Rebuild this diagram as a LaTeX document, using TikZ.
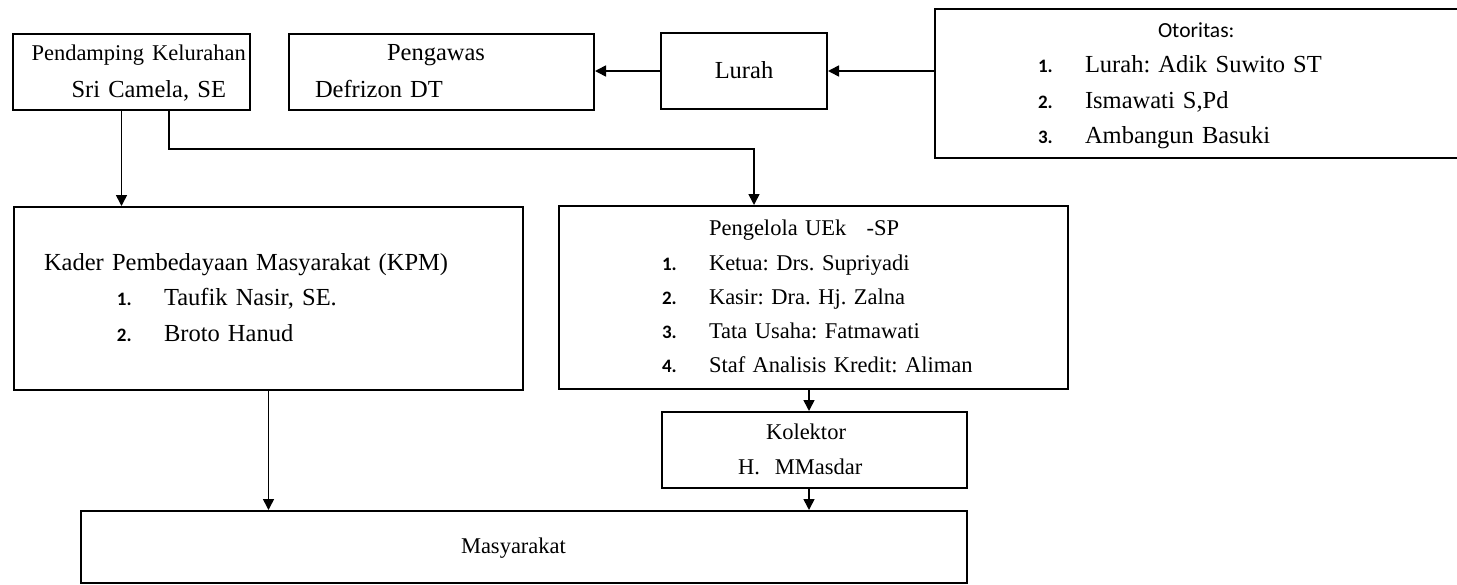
\documentclass[tikz,border=0pt]{standalone}
\usepackage{fontspec}
\setmainfont{Liberation Serif}
\newfontfamily\numfont{Carlito}
\usepackage{tikz}
\usetikzlibrary{
    positioning,
    arrows.meta,
    calc
}
\frenchspacing
\tikzset{
    box/.style={
        rectangle, draw, line width=2pt, inner sep=0pt,
        anchor=north west, align=left,
        font=\fontsize{24.5}{35.5}\selectfont
    },
    smalltxt/.style={
        font=\fontsize{22.5}{34.3}\selectfont
    },
    arrow/.style={
        -{Triangle[length=11pt, width=11pt]}, line width=1.6pt
    }
}
\newcommand{\itm}[2]{\makebox[47pt][l]{\numfont\bfseries\fontsize{19}{19}\selectfont #1}\mbox{#2}}

\begin{document}
\begin{tikzpicture}[x=1pt, y=-1pt]
	\useasboundingbox (0,0) rectangle (1457,584);
	
	% NODES
	\node (pend) [box, minimum width=237pt, minimum height=76pt, text width=200pt, font=\fontsize{24.5}{37}\selectfont] at (12,33)
		{\strut\mbox{\fontsize{22.5}{37}\selectfont Pendamping Kelurahan}\\ \hspace*{40pt}Sri Camela, SE\strut};
	\node (peng) [box, minimum width=305pt, minimum height=76pt, text width=253pt, font=\fontsize{24.5}{37}\selectfont] at (288,33)
		{\strut\hspace*{72pt}Pengawas\\ Defrizon DT\strut};
	\node (lurah) [box, minimum width=166pt, minimum height=76pt, align=center] at (660,32) {\strut Lurah};
	\node (otor) [box, minimum width=536pt, minimum height=149pt, text width=330pt, font=\fontsize{24.5}{35.3}\selectfont] at (934,8)
		{\strut\hspace*{120pt}{\numfont\fontsize{21.5}{35.3}\selectfont Otoritas:}\\
		\itm{1.}{Lurah: Adik Suwito ST}\\
		\itm{2.}{Ismawati S,Pd}\\
		\itm{3.}{Ambangun Basuki}\strut};
	\node (kpm) [box, minimum width=509pt, minimum height=183pt, text width=449pt] at (13,206)
		{\strut Kader Pembedayaan Masyarakat (KPM)\\
		\hspace*{73pt}\itm{1.}{Taufik Nasir, SE.}\\
		\hspace*{73pt}\itm{2.}{Broto Hanud}\strut};
	\node (pengl) [box, smalltxt, minimum width=509pt, minimum height=183pt, text width=303pt] at (558,205)
		{\strut\hspace*{47pt}Pengelola UEk\hspace{0.9em}-SP\\
		\itm{1.}{Ketua: Drs. Supriyadi}\\
		\itm{2.}{Kasir: Dra. Hj. Zalna}\\
		\itm{3.}{Tata Usaha: Fatmawati}\\
		\itm{4.}{Staf Analisis Kredit: Aliman}\strut};
	\node (kol) [box, smalltxt, minimum width=305pt, minimum height=76pt, text width=153pt] at (661,411)
		{\strut\hspace*{28pt}Kolektor\\ H.\ \ MMasdar\strut};
	\node (masy) [box, smalltxt, minimum width=886pt, minimum height=72pt, text width=126pt] at (80,510) {\strut Masyarakat};
	\coordinate (split) at (754,149);
	
	% ARROWS
	\draw[arrow] (lurah.west) -- (lurah.west -| peng.east);
	\draw[arrow] (otor.west |- lurah.east) -- (lurah.east);
	\draw[arrow] ([xshift=-10pt]pend.south) -- ([xshift=-10pt]pend.south |- kpm.north);
	\draw[arrow] ([xshift=37.5pt]pend.south) |- (split) -- (split |- pengl.north);
	\draw[arrow] (kpm.south) -- (kpm.south |- masy.north);
	\draw[arrow] ([xshift=-4.5pt]pengl.south) -- ([xshift=-4.5pt]pengl.south |- kol.north);
	\draw[arrow] ([xshift=-5.5pt]kol.south) -- ([xshift=-5.5pt]kol.south |- masy.north);
	
\end{tikzpicture}
\end{document}
